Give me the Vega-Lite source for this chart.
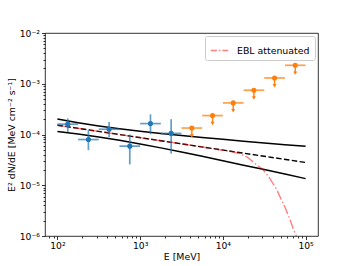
{
  "$schema": "https://vega.github.io/schema/vega-lite/v6.json",
  "width": 273,
  "height": 203,
  "autosize": {"type": "none"},
  "padding": {"left": 45, "top": 33, "right": 36, "bottom": 30},
  "config": {
    "view": {"stroke": "#000000", "strokeWidth": 0.8},
    "font": "DejaVu Sans",
    "axis": {
      "grid": false,
      "domain": false,
      "labelFont": "DejaVu Sans",
      "labelFontSize": 9.2,
      "labelColor": "#000000",
      "titleFont": "DejaVu Sans",
      "titleFontSize": 9.4,
      "titleFontWeight": "normal",
      "titleColor": "#000000",
      "tickColor": "#000000",
      "tickWidth": 0.8
    }
  },
  "datasets": {
    "pts": [
      {"E": 133.4, "Elo": 100, "Ehi": 177.8, "F": 1.6e-4, "Flo": 1.12e-4, "Fhi": 2.07e-4},
      {"E": 237.1, "Elo": 177.8, "Ehi": 316.2, "F": 7.96e-5, "Flo": 4.9e-5, "Fhi": 1.22e-4},
      {"E": 421.7, "Elo": 316.2, "Ehi": 562.3, "F": 1.27e-4, "Flo": 8.97e-5, "Fhi": 1.77e-4},
      {"E": 749.9, "Elo": 562.3, "Ehi": 1000, "F": 5.9e-5, "Flo": 2.57e-5, "Fhi": 1.0e-4},
      {"E": 1333.5, "Elo": 1000, "Ehi": 1778.3, "F": 1.64e-4, "Flo": 1.01e-4, "Fhi": 2.5e-4},
      {"E": 2371.4, "Elo": 1778.3, "Ehi": 3162.3, "F": 1.05e-4, "Flo": 4.2e-5, "Fhi": 2.0e-4}
    ],
    "uls": [
      {"E": 4217, "Elo": 3162.3, "Ehi": 5623.4, "F": 1.34e-4, "Ftip": 9.38e-5},
      {"E": 7499, "Elo": 5623.4, "Ehi": 10000, "F": 2.36e-4, "Ftip": 1.65e-4},
      {"E": 13335, "Elo": 10000, "Ehi": 17783, "F": 4.19e-4, "Ftip": 2.93e-4},
      {"E": 23714, "Elo": 17783, "Ehi": 31623, "F": 7.45e-4, "Ftip": 5.22e-4},
      {"E": 42170, "Elo": 31623, "Ehi": 56234, "F": 1.3e-3, "Ftip": 9.1e-4},
      {"E": 74989, "Elo": 56234, "Ehi": 100000, "F": 2.31e-3, "Ftip": 1.62e-3}
    ],
    "band": [
      {"E": 100, "up": 2.018e-4, "lo": 1.151e-4},
      {"E": 177.8, "up": 1.710e-4, "lo": 1.026e-4},
      {"E": 316.2, "up": 1.472e-4, "lo": 8.97e-5},
      {"E": 562.3, "up": 1.294e-4, "lo": 7.73e-5},
      {"E": 1000, "up": 1.153e-4, "lo": 6.52e-5},
      {"E": 1778, "up": 1.042e-4, "lo": 5.45e-5},
      {"E": 3162, "up": 9.51e-5, "lo": 4.51e-5},
      {"E": 5623, "up": 8.71e-5, "lo": 3.72e-5},
      {"E": 10000, "up": 8.02e-5, "lo": 3.05e-5},
      {"E": 17783, "up": 7.40e-5, "lo": 2.49e-5},
      {"E": 31623, "up": 6.82e-5, "lo": 2.04e-5},
      {"E": 56234, "up": 6.31e-5, "lo": 1.66e-5},
      {"E": 100000, "up": 5.85e-5, "lo": 1.35e-5}
    ],
    "model": [
      {"E": 100, "F": 1.524e-4},
      {"E": 100000, "F": 2.81e-5}
    ],
    "ebl": [
      {"E": 100, "F": 1.524e-4},
      {"E": 1000, "F": 8.67e-5},
      {"E": 3162, "F": 6.55e-5},
      {"E": 5623, "F": 5.66e-5},
      {"E": 10000, "F": 4.9e-5},
      {"E": 12589, "F": 4.62e-5},
      {"E": 15849, "F": 4.22e-5},
      {"E": 19953, "F": 3.55e-5},
      {"E": 25119, "F": 2.6e-5},
      {"E": 30409, "F": 2.04e-5},
      {"E": 35481, "F": 1.51e-5},
      {"E": 39811, "F": 1.12e-5},
      {"E": 44668, "F": 8.32e-6},
      {"E": 50119, "F": 5.5e-6},
      {"E": 56234, "F": 3.72e-6},
      {"E": 63096, "F": 2.34e-6},
      {"E": 70795, "F": 1.41e-6},
      {"E": 79433, "F": 8.9e-7}
    ]
  },
  "layer": [
    {
      "data": {"name": "band"},
      "mark": {"type": "line", "color": "#000000", "strokeWidth": 1.5},
      "encoding": {
        "x": {
          "field": "E", "type": "quantitative",
          "scale": {"type": "log", "domain": [70.8, 141254], "nice": false},
          "axis": {
            "title": "E [MeV]",
            "titlePadding": 2,
            "values": [80, 90, 100, 200, 300, 400, 500, 600, 700, 800, 900, 1000, 2000, 3000, 4000, 5000, 6000, 7000, 8000, 9000, 10000, 20000, 30000, 40000, 50000, 60000, 70000, 80000, 90000, 100000],
            "labelExpr": "datum.value == 100 ? '10²' : datum.value == 1000 ? '10³' : datum.value == 10000 ? '10⁴' : datum.value == 100000 ? '10⁵' : ''",
            "tickSize": {"condition": {"test": "indexof([100, 1000, 10000, 100000], datum.value) >= 0", "value": 3.5}, "value": 2},
            "labelPadding": 2,
            "labelFlush": false,
            "labelOverlap": false
          }
        },
        "y": {
          "field": "up", "type": "quantitative",
          "scale": {"type": "log", "domain": [1e-6, 1e-2], "nice": false},
          "axis": {
            "title": "E² dN/dE [MeV cm⁻² s⁻¹]",
            "titlePadding": 3,
            "values": [1e-6, 2e-6, 3e-6, 4e-6, 5e-6, 6e-6, 7e-6, 8e-6, 9e-6, 1e-5, 2e-5, 3e-5, 4e-5, 5e-5, 6e-5, 7e-5, 8e-5, 9e-5, 1e-4, 2e-4, 3e-4, 4e-4, 5e-4, 6e-4, 7e-4, 8e-4, 9e-4, 1e-3, 2e-3, 3e-3, 4e-3, 5e-3, 6e-3, 7e-3, 8e-3, 9e-3, 1e-2],
            "labelExpr": "datum.value == 1e-6 ? '10⁻⁶' : datum.value == 1e-5 ? '10⁻⁵' : datum.value == 1e-4 ? '10⁻⁴' : datum.value == 1e-3 ? '10⁻³' : datum.value == 1e-2 ? '10⁻²' : ''",
            "tickSize": {"condition": {"test": "indexof([1e-6, 1e-5, 1e-4, 1e-3, 1e-2], datum.value) >= 0", "value": 3.5}, "value": 2},
            "labelPadding": 2,
            "labelFlush": false,
            "labelOverlap": false
          }
        }
      }
    },
    {
      "data": {"name": "band"},
      "mark": {"type": "line", "color": "#000000", "strokeWidth": 1.5},
      "encoding": {
        "x": {"field": "E", "type": "quantitative"},
        "y": {"field": "lo", "type": "quantitative"}
      }
    },
    {
      "data": {"name": "model"},
      "mark": {"type": "line", "color": "#000000", "strokeWidth": 1.4, "strokeDash": [5.5, 2.4]},
      "encoding": {
        "x": {"field": "E", "type": "quantitative"},
        "y": {"field": "F", "type": "quantitative"}
      }
    },
    {
      "data": {"name": "ebl"},
      "mark": {"type": "line", "strokeWidth": 1.4, "opacity": 0.5, "strokeDash": [9.6, 2.4, 1.5, 2.4], "clip": true},
      "encoding": {
        "x": {"field": "E", "type": "quantitative"},
        "y": {"field": "F", "type": "quantitative"},
        "color": {
          "datum": "EBL attenuated",
          "type": "nominal",
          "scale": {"range": ["#ff0000"]},
          "legend": {
            "title": null,
            "orient": "top-right",
            "offset": 3,
            "padding": 5,
            "strokeColor": "#cccccc",
            "fillColor": "#ffffff",
            "cornerRadius": 2,
            "symbolType": "stroke",
            "symbolSize": 300,
            "symbolStrokeWidth": 1.4,
            "symbolDash": [6, 2, 1.5, 2],
            "symbolOpacity": 0.5,
            "labelFont": "DejaVu Sans",
            "labelFontSize": 9.4,
            "labelColor": "#000000",
            "labelOffset": 8
          }
        }
      }
    },
    {
      "data": {"name": "pts"},
      "mark": {"type": "rule", "color": "#1f77b4", "strokeWidth": 1.7, "opacity": 0.7},
      "encoding": {
        "x": {"field": "Elo", "type": "quantitative"},
        "x2": {"field": "Ehi"},
        "y": {"field": "F", "type": "quantitative"}
      }
    },
    {
      "data": {"name": "pts"},
      "mark": {"type": "rule", "color": "#1f77b4", "strokeWidth": 1.7, "opacity": 0.7},
      "encoding": {
        "x": {"field": "E", "type": "quantitative"},
        "y": {"field": "Flo", "type": "quantitative"},
        "y2": {"field": "Fhi"}
      }
    },
    {
      "data": {"name": "pts"},
      "mark": {"type": "point", "shape": "circle", "filled": true, "color": "#1f77b4", "size": 26, "opacity": 1},
      "encoding": {
        "x": {"field": "E", "type": "quantitative"},
        "y": {"field": "F", "type": "quantitative"}
      }
    },
    {
      "data": {"name": "uls"},
      "mark": {"type": "rule", "color": "#ff7f0e", "strokeWidth": 1.7, "opacity": 0.75},
      "encoding": {
        "x": {"field": "Elo", "type": "quantitative"},
        "x2": {"field": "Ehi"},
        "y": {"field": "F", "type": "quantitative"}
      }
    },
    {
      "data": {"name": "uls"},
      "mark": {"type": "rule", "color": "#ff7f0e", "strokeWidth": 1.4},
      "encoding": {
        "x": {"field": "E", "type": "quantitative"},
        "y": {"field": "F", "type": "quantitative"},
        "y2": {"field": "Ftip"}
      }
    },
    {
      "data": {"name": "uls"},
      "mark": {"type": "point", "shape": "triangle-down", "filled": true, "color": "#ff7f0e", "size": 16, "opacity": 1},
      "encoding": {
        "x": {"field": "E", "type": "quantitative"},
        "y": {"field": "Ftip", "type": "quantitative"}
      }
    },
    {
      "data": {"name": "uls"},
      "mark": {"type": "point", "shape": "circle", "filled": true, "color": "#ff7f0e", "size": 26, "opacity": 1},
      "encoding": {
        "x": {"field": "E", "type": "quantitative"},
        "y": {"field": "F", "type": "quantitative"}
      }
    }
  ]
}
